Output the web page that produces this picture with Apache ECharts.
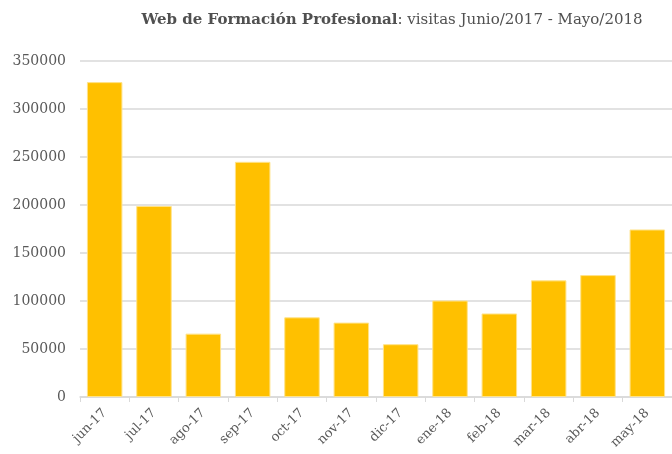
<!DOCTYPE html>
<html>
<head>
<meta charset="utf-8">
<script src="https://cdn.jsdelivr.net/npm/echarts@6/dist/echarts.min.js"></script>
<style>
  html, body { margin: 0; padding: 0; background: #fff; }
  #main { width: 672px; height: 454px; }
</style>
</head>
<body>
<div id="main"></div>
<script>
var months = ['jun-17', 'jul-17', 'ago-17', 'sep-17', 'oct-17', 'nov-17',
              'dic-17', 'ene-18', 'feb-18', 'mar-18', 'abr-18', 'may-18'];
var visitas = [328000, 199000, 66000, 245000, 83000, 77500,
               55000, 100500, 87000, 121500, 127000, 174500];

var chart = echarts.init(document.getElementById('main'));
var serif = '"DejaVu Serif", "Liberation Serif", serif';

var option = {
    animation: false,
    title: {
        text: '{b|Web de Formación Profesional}{n|: visitas Junio/2017 - Mayo/2018}',
        left: 387,
        top: 8,
        textAlign: 'center',
        textStyle: {
            rich: {
                b: { fontFamily: serif, fontSize: 15, fontWeight: 'bold', color: '#505050' },
                n: { fontFamily: serif, fontSize: 15, fontWeight: 'normal', color: '#505050' }
            }
        }
    },
    grid: {
        left: 80,
        top: 61,
        width: 598,
        height: 336
    },
    xAxis: {
        type: 'category',
        data: months,
        axisLine: { lineStyle: { color: '#D9D9D9', width: 1.5 } },
        axisTick: { show: true, length: 5, lineStyle: { color: '#D9D9D9' } },
        axisLabel: {
            rotate: 45,
            interval: 0,
            margin: 14,
            fontFamily: serif,
            fontSize: 13,
            color: '#595959'
        }
    },
    yAxis: {
        type: 'value',
        min: 0,
        max: 350000,
        interval: 50000,
        axisLine: { show: false },
        axisTick: { show: false },
        splitLine: { lineStyle: { color: '#D9D9D9', width: 1.5 } },
        axisLabel: {
            margin: 14,
            fontFamily: serif,
            fontSize: 14,
            color: '#595959',
            formatter: function (v) { return String(v); }
        }
    },
    series: [
        {
            type: 'bar',
            data: visitas,
            barCategoryGap: '28%',
            itemStyle: {
                color: '#FFC000',
                borderColor: '#FFE38A',
                borderWidth: 1
            }
        }
    ]
};

chart.setOption(option);
</script>
</body>
</html>
